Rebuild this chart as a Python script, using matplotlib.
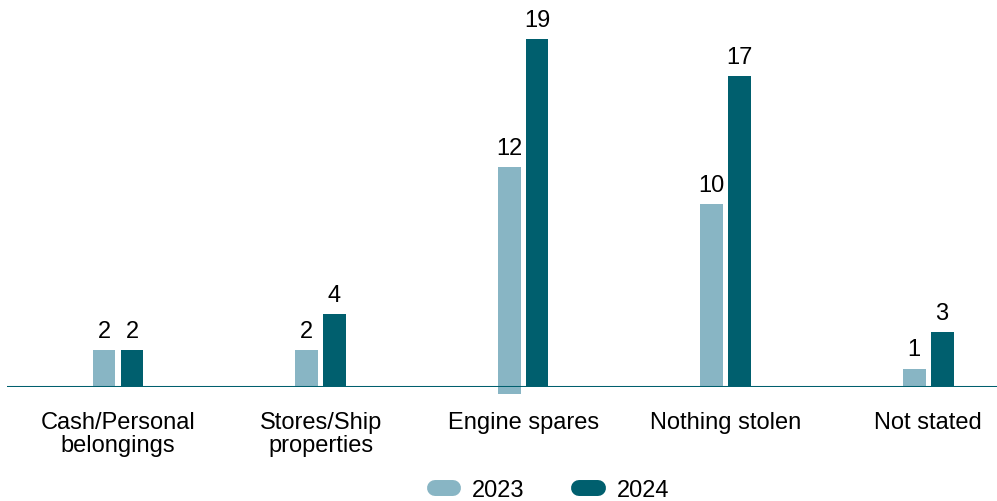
import matplotlib.pyplot as plt
import numpy as np
from matplotlib.lines import Line2D

categories = ["Cash/Personal\nbelongings", "Stores/Ship\nproperties", "Engine spares",
              "Nothing stolen", "Not stated"]
vals_2023 = [2, 2, 12, 10, 1]
vals_2024 = [2, 4, 19, 17, 3]
# the 2023 engine spares bar dips a little under the axis in the original
bottom_2023 = [0, 0, -0.4, 0, 0]

c23 = "#88b5c4"
c24 = "#005f6e"

plt.rcParams['font.family'] = ['Liberation Sans', 'DejaVu Sans']
fs = 17

fig = plt.figure(figsize=(9.97, 5.02), dpi=100)
ax = fig.add_axes([7 / 997, (502 - 388) / 502, 990 / 997, 378 / 502])

x = np.arange(len(categories))
w = 0.113
off = 0.069
b1 = ax.bar(x - off, np.array(vals_2023) - np.array(bottom_2023), w, bottom=bottom_2023,
            color=c23, clip_on=False)
b2 = ax.bar(x + off, vals_2024, w, color=c24)

for xi, v in zip(x - off, vals_2023):
    ax.text(xi, v + 0.45, str(v), ha='center', va='bottom', fontsize=fs)
for xi, v in zip(x + off, vals_2024):
    ax.text(xi, v + 0.45, str(v), ha='center', va='bottom', fontsize=fs)

ax.set_xlim(-0.548, 4.34)
ax.set_ylim(0, 20.65)
ax.axhline(0, color=c24, lw=2.2, zorder=3)
for s in ax.spines.values():
    s.set_visible(False)
ax.set_yticks([])
ax.set_xticks(x)
ax.set_xticklabels(categories, fontsize=fs, linespacing=1.1)
ax.tick_params(axis='x', length=0, pad=17)

handles = [Line2D([0], [0], color=c23, lw=11.5, solid_capstyle='round'),
           Line2D([0], [0], color=c24, lw=11.5, solid_capstyle='round')]
fig.legend(handles, ["2023", "2024"], loc='center', bbox_to_anchor=(552 / 997, 1 - 491 / 502),
           ncol=2, frameon=False, fontsize=fs, handlelength=0.8, handletextpad=0.8,
           columnspacing=2.3)

fig.savefig("out.png", dpi=100)
